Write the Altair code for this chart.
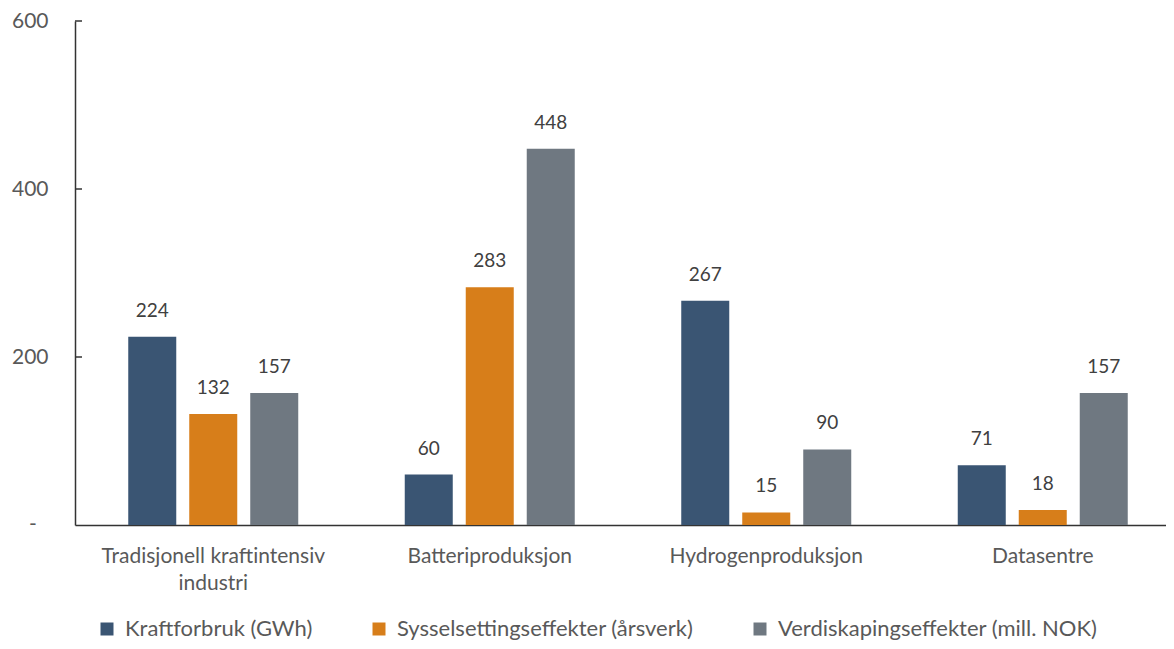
import altair as alt
import pandas as pd

categories = ["Tradisjonell kraftintensiv industri", "Batteriproduksjon", "Hydrogenproduksjon", "Datasentre"]
series = ["Kraftforbruk (GWh)", "Sysselsettingseffekter (årsverk)", "Verdiskapingseffekter (mill. NOK)"]
kraftforbruk = [224, 60, 267, 71]
sysselsetting = [132, 283, 15, 18]
verdiskaping = [157, 448, 90, 157]
y_ticks = [0, 200, 400, 600]
inner_ticks = [200, 400, 600]
zero_label = ["-"]
colors = ["#3A5573", "#D77E1A", "#6F7881"]

rows = []
for s, vals in zip(series, [kraftforbruk, sysselsetting, verdiskaping]):
    for c, v in zip(categories, vals):
        rows.append({"Kategori": c, "Serie": s, "Verdi": v})
df = pd.DataFrame(rows)

FONT = "Lato"
FS = 21
LFS = 22
DFS = 19

x_enc = alt.X(
    "Kategori:N",
    sort=categories,
    scale=alt.Scale(range=[0, 1106], paddingInner=0, paddingOuter=0),
    axis=alt.Axis(
        title=None, ticks=False, labelAngle=0, domainColor="#333333", domainWidth=1.5,
        labelPadding=20, labelFont=FONT, labelFontSize=FS, labelColor="#595959",
        labelLineHeight=27, labelLimit=400,
        labelExpr="datum.label == 'Tradisjonell kraftintensiv industri' ? ['Tradisjonell kraftintensiv', 'industri'] : datum.label",
    ),
)
y_enc = alt.Y(
    "Verdi:Q",
    scale=alt.Scale(domain=[0, 600]),
    axis=alt.Axis(
        title=None, values=y_ticks, grid=False, tickSize=0, domainColor="#333333", domainWidth=1.5,
        labelPadding=27, labelFont=FONT, labelFontSize=FS, labelColor="#595959",
        labelExpr="datum.value == 0 ? '' : datum.label",
    ),
)
xo_enc = alt.XOffset("Serie:N", sort=series, scale=alt.Scale(paddingInner=0.213, paddingOuter=0.873))

base = alt.Chart(df).encode(x=x_enc, xOffset=xo_enc, y=y_enc)

bars = base.mark_bar().encode(
    color=alt.Color(
        "Serie:N", sort=series,
        scale=alt.Scale(domain=series, range=colors),
        legend=alt.Legend(
            title=None, orient="none", legendX=21, legendY=597, direction="horizontal",
            symbolType="square", symbolSize=169, symbolStrokeWidth=0, symbolOpacity=1,
            labelFont=FONT, labelFontSize=LFS, labelColor="#595959", labelOffset=7,
            columnPadding=55, labelLimit=500,
        ),
    )
)

labels = base.mark_text(baseline="alphabetic", dy=-20, font=FONT, fontSize=DFS, color="#404040").encode(
    text="Verdi:Q"
)

ticks = alt.Chart(pd.DataFrame({"t": inner_ticks})).mark_rule(color="#333333", strokeWidth=1.5).encode(
    y=alt.Y("t:Q"), x=alt.value(0), x2=alt.value(7)
)

zero = alt.Chart(pd.DataFrame({"t": [0], "lab": zero_label})).mark_text(
    font=FONT, fontSize=FS, color="#595959", align="center", baseline="middle"
).encode(y=alt.Y("t:Q"), x=alt.value(-42), text="lab:N")

chart = alt.layer(bars, labels, ticks, zero).properties(
    width=1091, height=504,
    autosize=alt.AutoSizeParams(type="none"),
    padding={"left": 67, "top": 13, "right": 0, "bottom": 116},
    background="white",
).configure_view(stroke=None)

chart.save("out.html", embed_options={"renderer": "svg", "actions": False})
